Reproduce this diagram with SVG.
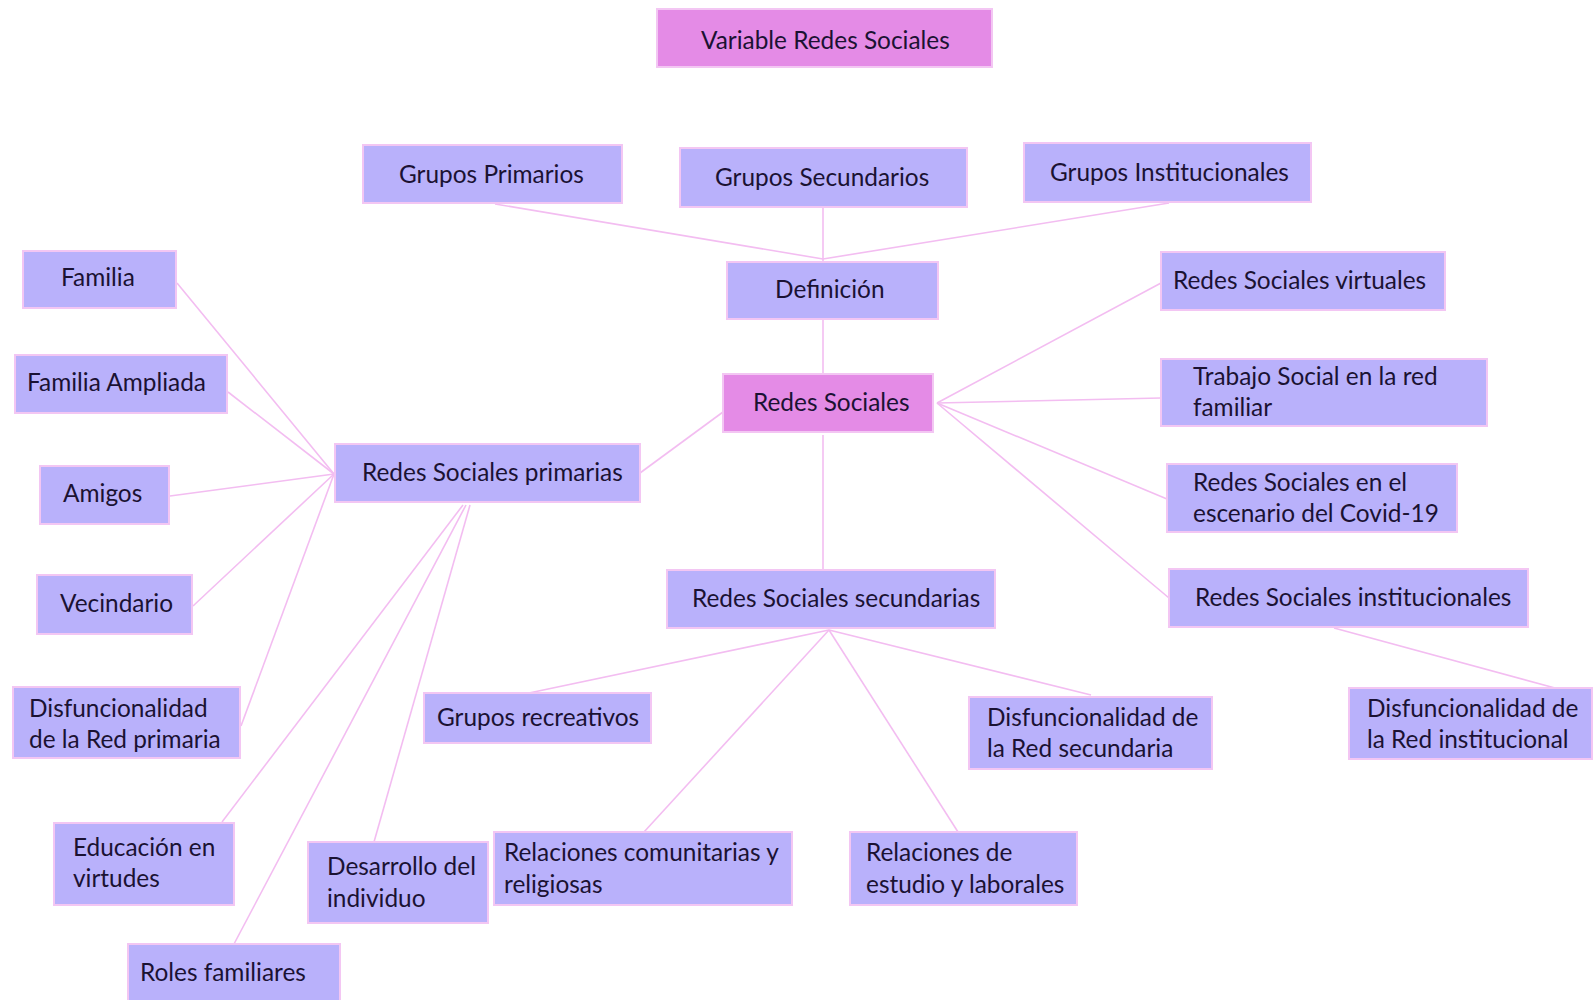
<svg xmlns="http://www.w3.org/2000/svg" width="1594" height="1000" viewBox="0 0 1594 1000">
<style>
.n rect{fill:#b9b1fb;stroke:#f3c6f3;stroke-width:2}
.p rect{fill:#e48be6;stroke:#f3c6f3;stroke-width:2}
text{font-family:Lato,"Open Sans",sans-serif;font-size:24.4px;fill:#1b1233}
#edges line{stroke:#f3bdf1;stroke-width:1.6}
</style>
<rect width="1594" height="1000" fill="#ffffff"/>
<g id="edges">
<line x1="495" y1="204" x2="823" y2="259"/>
<line x1="823" y1="207" x2="823" y2="259"/>
<line x1="1169" y1="203" x2="823" y2="259"/>
<line x1="823" y1="259" x2="823" y2="262"/>
<line x1="823" y1="320" x2="823" y2="374"/>
<line x1="723" y1="412" x2="640" y2="473"/>
<line x1="937" y1="403" x2="1161" y2="283"/>
<line x1="937" y1="403" x2="1161" y2="398"/>
<line x1="937" y1="403" x2="1167" y2="499"/>
<line x1="937" y1="403" x2="1169" y2="598"/>
<line x1="823" y1="435" x2="823" y2="569"/>
<line x1="334" y1="474" x2="177" y2="283"/>
<line x1="334" y1="474" x2="228" y2="392"/>
<line x1="334" y1="474" x2="170" y2="496"/>
<line x1="334" y1="474" x2="193" y2="606"/>
<line x1="334" y1="474" x2="241" y2="726"/>
<line x1="463" y1="505" x2="222" y2="822"/>
<line x1="466" y1="505" x2="234" y2="944"/>
<line x1="470" y1="505" x2="374" y2="842"/>
<line x1="829" y1="630" x2="529" y2="693"/>
<line x1="829" y1="630" x2="644" y2="832"/>
<line x1="829" y1="630" x2="958" y2="832"/>
<line x1="829" y1="630" x2="1091" y2="695"/>
<line x1="1334" y1="628" x2="1555" y2="688"/>
</g>
<g id="n-variable" class="p"><rect x="657" y="9" width="335" height="58"/><text x="701" y="49">Variable Redes Sociales</text></g>
<g id="n-gprim" class="n"><rect x="363" y="145" width="259" height="58"/><text x="399" y="183">Grupos Primarios</text></g>
<g id="n-gsec" class="n"><rect x="680" y="148" width="287" height="59"/><text x="715" y="186">Grupos Secundarios</text></g>
<g id="n-ginst" class="n"><rect x="1024" y="143" width="287" height="59"/><text x="1050" y="181">Grupos Institucionales</text></g>
<g id="n-def" class="n"><rect x="727" y="262" width="211" height="57"/><text x="775" y="298">Definición</text></g>
<g id="n-redes" class="p"><rect x="723" y="374" width="210" height="58"/><text x="753" y="411">Redes Sociales</text></g>
<g id="n-familia" class="n"><rect x="23" y="251" width="153" height="57"/><text x="61" y="286">Familia</text></g>
<g id="n-famamp" class="n"><rect x="15" y="355" width="212" height="58"/><text x="27" y="391">Familia Ampliada</text></g>
<g id="n-amigos" class="n"><rect x="40" y="466" width="129" height="58"/><text x="63" y="502">Amigos</text></g>
<g id="n-vecin" class="n"><rect x="37" y="575" width="155" height="59"/><text x="60" y="612">Vecindario</text></g>
<g id="n-disprim" class="n"><rect x="13" y="687" width="227" height="71"/><text x="29" y="717">Disfuncionalidad</text><text x="29" y="748">de la Red primaria</text></g>
<g id="n-rsprim" class="n"><rect x="335" y="444" width="305" height="58"/><text x="362" y="481">Redes Sociales primarias</text></g>
<g id="n-educ" class="n"><rect x="54" y="823" width="180" height="82"/><text x="73" y="856">Educación en</text><text x="73" y="887">virtudes</text></g>
<g id="n-desarr" class="n"><rect x="308" y="842" width="180" height="81"/><text x="327" y="875">Desarrollo del</text><text x="327" y="907">individuo</text></g>
<g id="n-roles" class="n"><rect x="128" y="944" width="212" height="60"/><text x="140" y="981">Roles familiares</text></g>
<g id="n-rssec" class="n"><rect x="667" y="570" width="328" height="58"/><text x="692" y="607">Redes Sociales secundarias</text></g>
<g id="n-grec" class="n"><rect x="424" y="693" width="227" height="50"/><text x="437" y="726">Grupos recreativos</text></g>
<g id="n-relcom" class="n"><rect x="494" y="832" width="298" height="73"/><text x="504" y="861">Relaciones comunitarias y</text><text x="504" y="893">religiosas</text></g>
<g id="n-relest" class="n"><rect x="850" y="832" width="227" height="73"/><text x="866" y="861">Relaciones de</text><text x="866" y="893">estudio y laborales</text></g>
<g id="n-dissec" class="n"><rect x="969" y="697" width="243" height="72"/><text x="987" y="726">Disfuncionalidad de</text><text x="987" y="757">la Red secundaria</text></g>
<g id="n-virt" class="n"><rect x="1161" y="252" width="284" height="58"/><text x="1173" y="289">Redes Sociales virtuales</text></g>
<g id="n-trab" class="n"><rect x="1161" y="359" width="326" height="67"/><text x="1193" y="385">Trabajo Social en la red</text><text x="1193" y="416">familiar</text></g>
<g id="n-covid" class="n"><rect x="1167" y="464" width="290" height="68"/><text x="1193" y="491">Redes Sociales en el</text><text x="1193" y="522">escenario del Covid-19</text></g>
<g id="n-rsinst" class="n"><rect x="1169" y="569" width="359" height="58"/><text x="1195" y="606">Redes Sociales institucionales</text></g>
<g id="n-disinst" class="n"><rect x="1349" y="688" width="243" height="71"/><text x="1367" y="717">Disfuncionalidad de</text><text x="1367" y="748">la Red institucional</text></g>
</svg>
